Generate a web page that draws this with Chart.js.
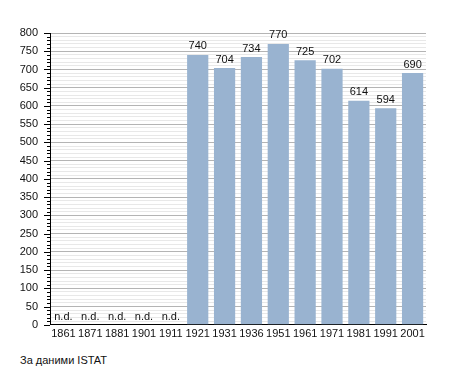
<!DOCTYPE html>
<html>
<head>
<meta charset="utf-8">
<script src="https://cdn.jsdelivr.net/npm/chart.js@4"></script>
<style>
  html, body { margin: 0; padding: 0; background: #fff; }
  #box { position: relative; width: 455px; height: 373px; }
  #nota { position: absolute; left: 20px; top: 354px; font: 11px "Liberation Sans", Arial, sans-serif; color: #111; }
</style>
</head>
<body>
<div id="box">
  <canvas id="grafico" width="455" height="344"></canvas>
  <div id="nota">За даними ISTAT</div>
</div>
<script>
var anni = ['1861', '1871', '1881', '1901', '1911', '1921', '1931', '1936', '1951', '1961', '1971', '1981', '1991', '2001'];
var abitanti = [null, null, null, null, null, 740, 704, 734, 770, 725, 702, 614, 594, 690];
var etichettaVuota = 'n.d.';
var tickY = [0, 50, 100, 150, 200, 250, 300, 350, 400, 450, 500, 550, 600, 650, 700, 750, 800];

// tacche dell'asse y (lunghe ogni 50, corte ogni 10) + etichette sopra le barre
const pluginExtra = {
    id: 'extra',
    afterDraw(chart) {
        const ctx = chart.ctx;
        const y = chart.scales.y;
        const x = chart.scales.x;
        const left = chart.chartArea.left;
        ctx.save();
        ctx.strokeStyle = '#000';
        ctx.lineWidth = 1;
        for (let v = 0; v <= 800; v += 10) {
            const py = Math.round(y.getPixelForValue(v)) + 0.5;
            const len = tickY.includes(v) ? 6 : 3;
            ctx.beginPath();
            ctx.moveTo(left - len, py);
            ctx.lineTo(left, py);
            ctx.stroke();
        }
        ctx.font = '11px "Liberation Sans", Arial, sans-serif';
        ctx.fillStyle = '#111';
        ctx.textAlign = 'center';
        ctx.textBaseline = 'bottom';
        abitanti.forEach(function (val, i) {
            const px = x.getPixelForValue(i);
            if (val == null) {
                ctx.fillText(etichettaVuota, px, y.getPixelForValue(0) - 2);
            } else {
                ctx.fillText(String(val), px, y.getPixelForValue(val) - 3);
            }
        });
        ctx.restore();
    }
};

new Chart(document.getElementById('grafico'), {
    type: 'bar',
    data: {
        labels: anni,
        datasets: [
            {
                label: 'Abitanti',
                data: abitanti,
                backgroundColor: '#99b3d0',
                barPercentage: 0.79,
                categoryPercentage: 1
            }
        ]
    },
    options: {
        responsive: false,
        animation: false,
        layout: { padding: { left: 0, right: 29, top: 33, bottom: 0 } },
        plugins: {
            legend: { display: false },
            tooltip: { enabled: false }
        },
        scales: {
            x: {
                grid: { display: false, drawTicks: false },
                border: { color: '#000', width: 1 },
                ticks: {
                    color: '#111',
                    font: { size: 11, family: '"Liberation Sans", Arial, sans-serif' },
                    padding: 3,
                    maxRotation: 0,
                    autoSkip: false
                }
            },
            y: {
                min: 0,
                max: 800,
                afterFit(scale) { scale.width = 50; },
                ticks: {
                    stepSize: 10,
                    autoSkip: false,
                    color: '#111',
                    padding: 12,
                    font: { size: 11, family: '"Liberation Sans", Arial, sans-serif' },
                    callback: function (v) { return tickY.includes(v) ? v : ''; }
                },
                grid: {
                    drawTicks: false,
                    color: function (c) { return tickY.includes(c.tick.value) ? '#b4b4b4' : '#e8e8e8'; }
                },
                border: { color: '#000', width: 1 }
            }
        }
    },
    plugins: [pluginExtra]
});
</script>
</body>
</html>
